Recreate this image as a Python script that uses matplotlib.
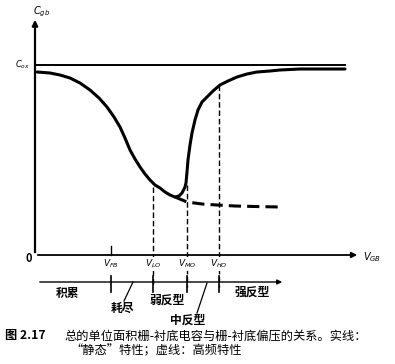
import matplotlib
matplotlib.use('Agg')
import matplotlib.pyplot as plt

plt.rcParams['font.family'] = ['Noto Sans CJK SC', 'DejaVu Sans']

# 准静态 C-V 曲线 (x: 栅-衬底偏压, y: 电容), 读自原图
v_static = [2, 15, 25, 35, 45, 55, 64, 72, 79, 85, 90, 95, 100, 105, 110, 115, 120, 125,
            130, 135, 140, 144, 147, 150, 151, 152, 153, 155, 157, 160, 163, 167, 172, 178,
            185, 193, 202, 212, 222, 235, 245, 265, 310]
c_static = [183, 182, 180, 177, 172, 165, 157, 148, 138, 128, 117, 105, 96, 88, 81, 75, 70, 67,
            63, 60, 58, 59, 62, 68, 72, 83, 95, 110, 122, 135, 145, 153, 158, 164,
            170, 174, 178, 181, 183, 184, 185, 186, 186]

# 高频 C-V 曲线 (虚线部分)
v_hf = [140, 152, 167, 182, 200, 220, 245]
c_hf = [58, 53, 51, 50, 49, 48.5, 48]

c_ox = 190
x_end = 310

# 特征电压
v_names = ['$V_{FB}$', '$V_{LO}$', '$V_{MO}$', '$V_{HO}$']
v_marks = [76, 118, 152, 184]
c_at_marks = [None, 68, 70, 170]

regions = ['积累', '耗尽', '弱反型', '中反型', '强反型']

fig = plt.figure(figsize=(3.95, 3.64), dpi=100)
ax = fig.add_axes([0, 0, 1, 1])
ax.set_xlim(-35, 360)
ax.set_ylim(-109, 255)
ax.axis('off')

# 坐标轴
ax.annotate('', xy=(0, 238), xytext=(0, 0),
            arrowprops=dict(arrowstyle='-|>', color='black', lw=1.6, mutation_scale=8))
ax.annotate('', xy=(325, 0), xytext=(0, 0),
            arrowprops=dict(arrowstyle='-|>', color='black', lw=1.3, mutation_scale=8))
ax.text(-2, 243, '$C_{gb}$', fontsize=7, fontweight='bold', ha='left', va='center')
ax.text(337, -2, '$V_{GB}$', fontsize=7, fontweight='bold', ha='center', va='center')
ax.text(-6, -3, '0', fontsize=8, fontweight='bold', ha='center', va='center')
ax.text(-13, c_ox, '$C_{ox}$', fontsize=6, fontweight='bold', ha='center', va='center')

# C_ox 水平线
ax.plot([0, x_end], [c_ox, c_ox], color='black', lw=1.4)

# 曲线
ax.plot(v_static, c_static, color='black', lw=2.2, solid_capstyle='round', solid_joinstyle='round')
ax.plot(v_hf, c_hf, color='black', lw=2.2, linestyle=(0, (4, 2)))

# 特征电压虚线与标注
for name, v, c in zip(v_names, v_marks, c_at_marks):
    if c is not None:
        ax.plot([v, v], [c, -32], color='black', lw=1.0, linestyle=(0, (4, 2)), zorder=1)
    else:
        ax.plot([v, v], [0, 9], color='black', lw=1.0)
    ax.text(v, -9, name, fontsize=6.5, fontweight='bold', ha='center', va='center',
            bbox=dict(facecolor='white', edgecolor='none', pad=0.5), zorder=3)
    ax.plot([v, v], [-21, -37], color='black', lw=1.2)

# 区域轴
ax.annotate('', xy=(250, -27), xytext=(2, -27),
            arrowprops=dict(arrowstyle='-|>', color='black', lw=1.0, mutation_scale=7))

ax.text(33, -38, regions[0], fontsize=8.5, fontweight='bold', ha='center', va='center')
ax.text(87, -53, regions[1], fontsize=8.5, fontweight='bold', ha='center', va='center')
ax.plot([89, 98], [-46, -27], color='black', lw=0.9)
ax.text(132, -45, regions[2], fontsize=8.5, fontweight='bold', ha='center', va='center')
ax.text(153, -65, regions[3], fontsize=8.5, fontweight='bold', ha='center', va='center')
ax.plot([162, 172], [-58, -28], color='black', lw=0.9)
ax.text(217, -37, regions[4], fontsize=8.5, fontweight='bold', ha='center', va='center')

# 图题
fig.text(5 / 395, 1 - 336 / 364, '图 2.17', fontsize=8.8, fontweight='bold', ha='left', va='center')
fig.text(64 / 395, 1 - 336 / 364, '总的单位面积栅-衬底电容与栅-衬底偏压的关系。实线：',
         fontsize=8.8, ha='left', va='center')
fig.text(70 / 395, 1 - 351 / 364, '“静态”特性；虚线：高频特性',
         fontsize=8.8, ha='left', va='center')

fig.savefig('out.png', dpi=100)
